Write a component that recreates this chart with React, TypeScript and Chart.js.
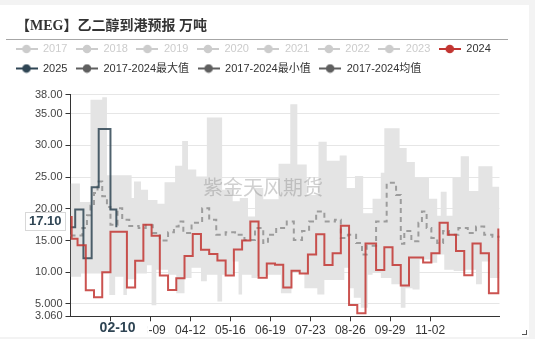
import { useEffect, useRef } from 'react';
import { Chart, registerables } from 'chart.js';

Chart.register(...registerables);

// ---- categories: daily axis for calendar 2024 (leap year), labels MM-DD ----
const CATEGORIES: string[] = (() => {
  const out: string[] = [];
  const d = new Date(Date.UTC(2024, 0, 1));
  for (let i = 0; i < 366; i++) {
    const m = d.getUTCMonth() + 1;
    const dd = d.getUTCDate();
    out.push(`${String(m).padStart(2, '0')}-${String(dd).padStart(2, '0')}`);
    d.setUTCDate(dd + 1);
  }
  return out;
})();

const X_TICK_INDEX = [34, 68, 102, 136, 170, 204, 238, 272, 306];
const Y_TICKS = [3.06, 5, 10, 15, 20, 25, 30, 35, 38];
const Y_TICK_LABELS = ['3.060', '5.000', '10.00', '15.00', '20.00', '25.00', '30.00', '35.00', '38.00'];

// ---- series (day index from 01-01, value in 万吨) ----
const Y2024_DAYS = [0, 1, 6, 13, 20, 27, 34, 48, 55, 62, 69, 76, 83, 90, 97, 104, 111, 118, 125, 132, 139, 146, 153, 160, 167, 174, 181, 188, 195, 202, 209, 216, 223, 230, 237, 244, 251, 260, 267, 274, 281, 288, 300, 307, 314, 321, 328, 335, 342, 349, 356, 364];
const Y2024_VALUES = [18.7, 15.3, 14.25, 7.15, 6.05, 10.0, 16.4, 7.6, 11.8, 17.5, 15.75, 9.5, 7.2, 9.05, 12.55, 16.05, 13.55, 12.9, 11.85, 9.5, 13.6, 15.0, 18.0, 9.15, 11.4, 11.2, 7.6, 10.25, 9.8, 12.8, 16.0, 11.15, 13.0, 17.35, 4.85, 3.55, 14.55, 10.35, 13.95, 11.15, 7.9, 12.35, 11.55, 13.0, 17.8, 15.9, 13.35, 9.55, 14.55, 13.0, 6.7, 16.9];

const Y2025_DAYS = [0, 4, 11, 18, 24, 34, 39];
const Y2025_VALUES = [17.1, 19.9, 12.2, 23.4, 32.6, 19.9, 17.1];

const MAX_DAYS = [0, 8, 17, 27, 31, 52, 54, 60, 66, 74, 80, 89, 95, 100, 107, 116, 129, 138, 144, 151, 157, 164, 177, 187, 193, 201, 211, 218, 229, 235, 242, 249, 257, 264, 267, 280, 286, 293, 305, 312, 315, 320, 325, 332, 339, 347, 359, 365];
const MAX_VALUES = [24.0, 21.1, 37.2, 37.6, 25.3, 21.7, 24.3, 23.0, 21.4, 20.8, 24.2, 26.8, 30.7, 26.2, 25.1, 34.4, 23.0, 21.2, 21.7, 18.8, 23.3, 21.5, 27.1, 36.5, 27.0, 22.2, 30.6, 27.6, 28.4, 23.3, 25.2, 19.3, 21.6, 25.7, 32.7, 29.6, 27.4, 24.9, 21.6, 18.9, 22.7, 18.9, 24.9, 28.3, 22.8, 26.7, 23.5, 23.5];

const MIN_DAYS = [0, 9, 33, 38, 45, 48, 56, 65, 69, 73, 83, 90, 97, 103, 111, 116, 125, 129, 138, 143, 146, 154, 159, 168, 179, 188, 199, 210, 216, 233, 237, 241, 247, 253, 257, 264, 273, 281, 285, 291, 297, 306, 312, 318, 326, 336, 345, 350, 357, 365];
const MIN_VALUES = [9.3, 9.8, 6.4, 9.3, 6.4, 8.9, 9.8, 11.1, 4.8, 10.4, 9.6, 6.7, 9.1, 10.7, 8.6, 9.6, 5.4, 9.6, 11.7, 6.5, 9.6, 9.1, 9.4, 9.6, 6.7, 9.9, 7.5, 6.5, 8.8, 10.7, 7.5, 6.0, 4.4, 9.6, 9.9, 9.1, 8.1, 4.4, 7.5, 7.3, 12.0, 11.5, 12.8, 10.4, 10.2, 10.4, 8.1, 11.7, 9.1, 9.1];

const AVG_DAYS = [0, 10, 14, 17, 20, 23, 27, 31, 34, 40, 44, 50, 58, 64, 70, 76, 83, 88, 92, 96, 103, 112, 118, 124, 132, 140, 148, 157, 164, 168, 175, 184, 190, 197, 203, 209, 216, 225, 230, 236, 243, 248, 252, 260, 269, 277, 281, 284, 290, 296, 299, 303, 307, 312, 317, 322, 330, 338, 345, 352, 359, 365];
const AVG_VALUES = [15.8, 17.0, 19.0, 20.5, 22.5, 24.3, 22.0, 20.3, 17.5, 20.1, 18.3, 17.3, 17.0, 17.4, 16.2, 15.0, 16.3, 17.2, 18.0, 16.2, 17.8, 20.1, 18.3, 15.9, 16.3, 15.9, 15.1, 17.0, 14.6, 15.9, 17.0, 18.0, 15.1, 16.5, 18.0, 19.6, 18.0, 18.3, 15.4, 15.9, 14.6, 12.8, 14.2, 18.0, 24.1, 22.2, 14.5, 16.5, 14.9, 17.8, 19.6, 17.0, 15.4, 14.6, 16.5, 15.9, 17.0, 16.2, 17.2, 15.9, 15.6, 15.6];

const LEGEND_NAMES = ['2017', '2018', '2019', '2020', '2021', '2022', '2023', '2024', '2025', '2017-2024最大值', '2017-2024最小值', '2017-2024均值'];
const LEGEND_ACTIVE = [false, false, false, false, false, false, false, true, true, true, true, true];

const TITLE = '【MEG】乙二醇到港预报 万吨';
const WATERMARK = '紫金天风期货';
const POINTER_X_INDEX = 40; // 02-10
const POINTER_Y_VALUE = 18.05;
const POINTER_Y_LABEL = '17.10';

const C_2024 = '#c23531';
const C_2025 = '#2f4554';
const C_STAT = '#5f5f5f';
const C_OFF = '#cccccc';
const SANS = '"Liberation Sans", "Noto Sans CJK SC", sans-serif';
const STEP = 'before';

// category x given as the MM-DD label of each day
const toPoints = (days: number[], values: number[]) => days.map((d, i) => ({ x: CATEGORIES[d], y: values[i] }));

function makeIcon(color: string): HTMLCanvasElement {
  const c = document.createElement('canvas');
  c.width = 22;
  c.height = 10;
  const g = c.getContext('2d')!;
  g.strokeStyle = color;
  g.lineWidth = 2;
  g.beginPath();
  g.moveTo(0, 5);
  g.lineTo(22, 5);
  g.stroke();
  g.fillStyle = color;
  g.beginPath();
  g.arc(11, 5, 4.3, 0, Math.PI * 2);
  g.fill();
  return c;
}

const overlayPlugin = {
  id: 'overlay',
  beforeDatasetsDraw(chart: any) {
    const { ctx } = chart;
    ctx.save();
    ctx.font = `20px "Noto Sans CJK SC", sans-serif`;
    ctx.fillStyle = 'rgba(120,120,120,0.35)';
    ctx.textAlign = 'center';
    ctx.textBaseline = 'middle';
    ctx.fillText(WATERMARK, 263, 182);
    ctx.restore();
  },
  afterDraw(chart: any) {
    const { ctx, chartArea, scales } = chart;
    const x = scales.x;
    const y = scales.y;
    ctx.save();
    // x pointer label
    const px = x.getPixelForValue(POINTER_X_INDEX);
    ctx.font = `bold 14px ${SANS}`;
    const tw = ctx.measureText(CATEGORIES[POINTER_X_INDEX]).width;
    ctx.fillStyle = '#ffffff';
    ctx.fillRect(px - tw / 2 - 12.5, chartArea.bottom + 5.5, tw + 25, 20);
    ctx.fillStyle = C_2025;
    ctx.textAlign = 'center';
    ctx.textBaseline = 'middle';
    ctx.fillText(CATEGORIES[POINTER_X_INDEX], px, chartArea.bottom + 11.5);
    // y pointer label
    const py = y.getPixelForValue(POINTER_Y_VALUE);
    ctx.font = `bold 13px ${SANS}`;
    const tw2 = ctx.measureText(POINTER_Y_LABEL).width;
    const bx = chartArea.left - 5.5 - tw2 - 7;
    ctx.fillStyle = '#ffffff';
    ctx.fillRect(bx, py - 9, tw2 + 7, 18);
    ctx.strokeStyle = '#d8d8d8';
    ctx.lineWidth = 1;
    ctx.strokeRect(Math.round(bx) + 0.5, Math.round(py - 9) + 0.5, Math.round(tw2 + 7), 18);
    ctx.fillStyle = C_2025;
    ctx.fillText(POINTER_Y_LABEL, bx + (tw2 + 7) / 2, py + 0.5);
    ctx.restore();
  },
};

export default function App() {
  const ref = useRef<HTMLCanvasElement | null>(null);

  useEffect(() => {
    if (!ref.current) return;
    const colors = [C_OFF, C_OFF, C_OFF, C_OFF, C_OFF, C_OFF, C_OFF, C_2024, C_2025, C_STAT, C_STAT, C_STAT];
    const icons = LEGEND_NAMES.map((_, i) => makeIcon(LEGEND_ACTIVE[i] ? colors[i] : C_OFF));

    const yearSets = LEGEND_NAMES.slice(0, 7).map((name) => ({
      label: name,
      data: [] as any[],
      hidden: true,
      borderColor: C_OFF,
      pointRadius: 0,
    }));

    const chart = new Chart(ref.current, {
      type: 'line',
      data: {
        labels: CATEGORIES,
        datasets: [
          ...yearSets,
          {
            label: '2024',
            data: toPoints(Y2024_DAYS, Y2024_VALUES),
            borderColor: 'rgba(194,53,49,0.85)',
            borderWidth: 2,
            pointRadius: 0,
            stepped: STEP,
            fill: false,
          },
          {
            label: '2025',
            data: toPoints(Y2025_DAYS, Y2025_VALUES),
            borderColor: 'rgba(47,69,84,0.85)',
            borderWidth: 2,
            pointRadius: 0,
            stepped: STEP,
            fill: false,
          },
          {
            label: '2017-2024最大值',
            data: toPoints(MAX_DAYS, MAX_VALUES),
            borderColor: 'rgba(0,0,0,0)',
            borderWidth: 0,
            pointRadius: 0,
            stepped: STEP,
            backgroundColor: '#e4e4e4',
            fill: 10,
          },
          {
            label: '2017-2024最小值',
            data: toPoints(MIN_DAYS, MIN_VALUES),
            borderColor: 'rgba(0,0,0,0)',
            borderWidth: 0,
            pointRadius: 0,
            stepped: STEP,
            fill: false,
          },
          {
            label: '2017-2024均值',
            data: toPoints(AVG_DAYS, AVG_VALUES),
            borderColor: '#9c9c9c',
            borderWidth: 2,
            borderDash: [5, 4],
            pointRadius: 0,
            stepped: STEP,
            fill: false,
          },
        ] as any,
      },
      options: {
        animation: false,
        responsive: false,
        devicePixelRatio: window.devicePixelRatio || 1,
        layout: { padding: { left: 7, top: 30, right: 10, bottom: 0 } },
        events: [],
        plugins: {
          filler: { drawTime: 'beforeDatasetsDraw' } as any,
          tooltip: { enabled: false },
          title: {
            display: true,
            text: '',
            weight: 500,
            padding: 0,
            font: { size: 10, lineHeight: 1.07 },
          } as any,
          legend: {
            display: true,
            position: 'top',
            align: 'start',
            labels: {
              usePointStyle: true,
              pointStyleWidth: 22,
              padding: 8.5,
              font: { size: 11, family: SANS },
              color: '#333',
              generateLabels: () =>
                LEGEND_NAMES.map((name, i) => ({
                  text: name,
                  fillStyle: colors[i],
                  strokeStyle: colors[i],
                  lineWidth: 0,
                  hidden: false,
                  pointStyle: icons[i],
                  fontColor: LEGEND_ACTIVE[i] ? '#333' : C_OFF,
                  datasetIndex: i,
                })) as any,
            },
          },
        },
        scales: {
          x: {
            type: 'category',
            offset: false,
            grid: { display: true, drawOnChartArea: false, drawTicks: true, tickLength: 5, tickColor: '#333' },
            border: { display: true, color: '#333', width: 1 },
            ticks: {
              autoSkip: false,
              maxRotation: 0,
              minRotation: 0,
              color: '#333',
              padding: 2,
              font: { size: 12, family: SANS },
            },
            afterBuildTicks: (s: any) => {
              s.ticks = X_TICK_INDEX.map((v) => ({ value: v }));
            },
            afterFit: (s: any) => {
              s.height = 20.7;
            },
          } as any,
          y: {
            type: 'linear',
            min: Y_TICKS[0],
            max: Y_TICKS[Y_TICKS.length - 1],
            afterBuildTicks: (s: any) => {
              s.ticks = Y_TICKS.map((v) => ({ value: v }));
            },
            ticks: {
              autoSkip: false,
              color: '#444',
              padding: 3,
              font: { size: 11, family: SANS },
              callback: (v: any) => {
                const i = Y_TICKS.indexOf(Number(v));
                return i >= 0 ? Y_TICK_LABELS[i] : '';
              },
            },
            grid: {
              color: (c: any) => (c.tick && c.tick.value === Y_TICKS[0] ? 'rgba(0,0,0,0)' : '#e6e6e6'),
              tickColor: '#333',
              tickLength: 5,
              drawTicks: true,
            },
            border: { display: true, color: '#333', width: 1 },
            afterFit: (s: any) => {
              s.width = 63.5;
            },
          } as any,
          yR: {
            type: 'linear',
            position: 'right',
            display: true,
            grid: { display: false },
            border: { display: false },
            ticks: { display: false },
            afterFit: (s: any) => {
              s.width = 19.5;
            },
          } as any,
        },
      },
      plugins: [overlayPlugin],
    });
    return () => chart.destroy();
  }, []);

  return (
    <div style={{ position: 'fixed', left: 0, top: 0, width: 535, height: 339, background: '#f3f3f3', overflow: 'hidden' }}>
      <div style={{ position: 'absolute', left: 0, top: 5, width: 529, height: 332, background: '#ffffff' }}>
        <canvas ref={ref} width={529} height={332} style={{ position: 'absolute', left: 0, top: 0, width: 529, height: 332 }} />
        <div
          style={{
            position: 'absolute',
            left: 16,
            top: 12,
            fontFamily: '"Liberation Serif", "Noto Sans CJK SC", serif',
            fontWeight: 'bold',
            fontSize: 14,
            lineHeight: '18px',
            color: '#333',
            whiteSpace: 'nowrap',
          }}
        >
          {TITLE}
        </div>
        <div style={{ position: 'absolute', left: 6, top: 34, width: 502, height: 1, background: '#a6a6a6' }} />
        <div
          style={{
            position: 'absolute',
            left: 522,
            top: 325,
            width: 4,
            height: 4,
            borderRight: '1.5px solid #555',
            borderBottom: '1.5px solid #555',
          }}
        />
      </div>
    </div>
  );
}
